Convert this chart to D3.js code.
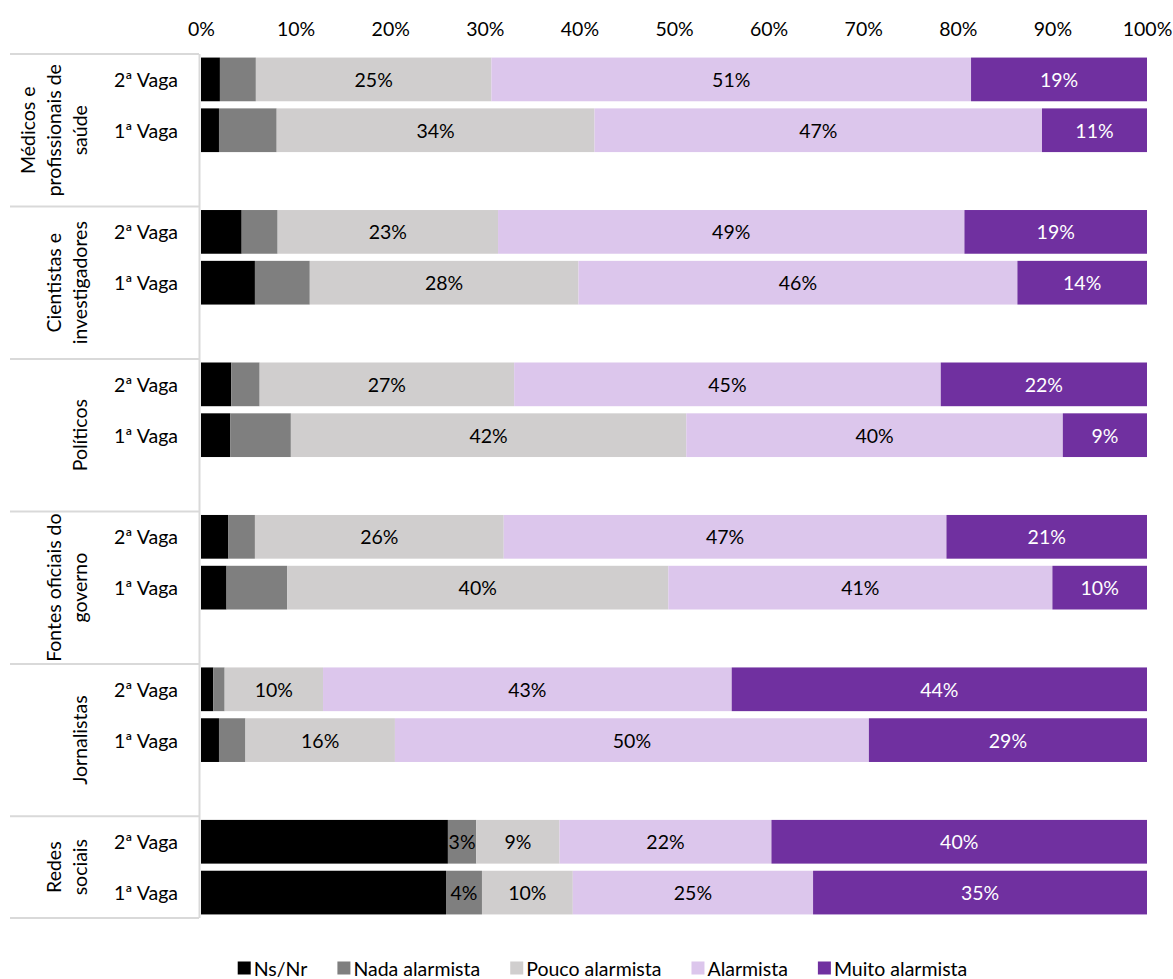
<!DOCTYPE html>
<html><head><meta charset="utf-8">
<script src="https://cdn.jsdelivr.net/npm/d3@7"></script>
<style>
body{margin:0;background:#fff;}
text{font-family:Lato, "Open Sans", sans-serif;}
</style></head>
<body><svg id="c" width="1173" height="979"></svg>
<script>
const groups = [
  ["Médicos e", "profissionais de", "saúde"],
  ["Cientistas e", "investigadores"],
  ["Políticos"],
  ["Fontes oficiais do", "governo"],
  ["Jornalistas"],
  ["Redes", "sociais"]
];
const waves = ["2ª Vaga", "1ª Vaga"];
const seriesNames = ["Ns/Nr", "Nada alarmista", "Pouco alarmista", "Alarmista", "Muito alarmista"];
const seriesColors = ["#000000", "#7f7f7f", "#d0cece", "#dcc6ec", "#7030a0"];
const labelColors = [null, "#000", "#000", "#000", "#fff"];
const ticks = [0, 10, 20, 30, 40, 50, 60, 70, 80, 90, 100];
// values per group: [2ª Vaga, 1ª Vaga], each [Ns/Nr, Nada, Pouco, Alarmista, Muito]
const medicos     = [[2.0, 3.8, 24.9, 50.7, 18.6], [1.9, 6.1, 33.6, 47.3, 11.1]];
const cientistas  = [[4.3, 3.8, 23.3, 49.3, 19.3], [5.7, 5.8, 28.4, 46.4, 13.7]];
const politicos   = [[3.2, 3.0, 26.9, 45.1, 21.8], [3.1, 6.4, 41.8, 39.8, 8.9]];
const fontes      = [[2.9, 2.8, 26.3, 46.8, 21.2], [2.7, 6.4, 40.3, 40.6, 10.0]];
const jornalistas = [[1.3, 1.2, 10.4, 43.2, 43.9], [1.9, 2.8, 15.8, 50.1, 29.4]];
const redes       = [[26.1, 3.0, 8.8, 22.4, 39.7], [25.9, 3.8, 9.6, 25.4, 35.3]];
const groupValues = [medicos, cientistas, politicos, fontes, jornalistas, redes];
// which series carry data labels per group (Ns/Nr never; Nada only for Redes sociais)
const labelledSeries = [[2,3,4],[2,3,4],[2,3,4],[2,3,4],[2,3,4],[1,2,3,4]];

const svg = d3.select("#c");
const FS = 19.5;

const rows = [];
groups.forEach((g, gi) => {
  waves.forEach((w, wi) => rows.push({key: gi + "-" + wi, gi, wi, wave: w, values: groupValues[gi][wi]}));
  if (gi < groups.length - 1) rows.push({key: gi + "-blank", gi, blank: true});
});

const plotTop = 54, plotBottom = 918;
const y = d3.scaleBand().domain(rows.map(r => r.key)).range([plotTop, plotBottom]).paddingInner(0.14).paddingOuter(0.07);
const x = d3.scaleLinear().domain([0, 100]).range([201, 1147]);

// top axis
const axis = svg.append("g").attr("transform", "translate(0,28)")
  .call(d3.axisTop(x).tickValues(ticks).tickSize(0).tickPadding(0).tickFormat(d => d + "%"));
axis.select(".domain").remove();
axis.selectAll("text").attr("font-size", FS).attr("fill", "#000")
  .attr("dy", null).attr("dominant-baseline", "central").style("font-family", "Lato, 'Open Sans', sans-serif");

// stacked bars
const dataRows = rows.filter(r => !r.blank);
const stack = d3.stack().keys(d3.range(5)).value((r, k) => r.values[k]);
const stacked = stack(dataRows);

const barG = svg.append("g");
stacked.forEach((layer, si) => {
  barG.selectAll(null).data(layer).enter().append("rect")
    .attr("x", d => x(d[0]))
    .attr("y", d => y(d.data.key))
    .attr("width", d => x(d[1]) - x(d[0]))
    .attr("height", y.bandwidth())
    .attr("fill", seriesColors[si]);
});
stacked.forEach((layer, si) => {
  barG.selectAll(null).data(layer.filter(d => labelledSeries[d.data.gi].includes(si))).enter().append("text")
    .attr("x", d => (x(d[0]) + x(d[1])) / 2)
    .attr("y", d => y(d.data.key) + y.bandwidth() / 2)
    .attr("text-anchor", "middle").attr("dominant-baseline", "central")
    .attr("font-size", FS).attr("fill", labelColors[si])
    .text(d => d3.format(".0f")(d[1] - d[0]) + "%");
});

// category axis
const lineCol = "#d9d9d9";
svg.append("line").attr("x1", 199.5).attr("x2", 199.5).attr("y1", plotTop).attr("y2", plotBottom)
  .attr("stroke", lineCol).attr("stroke-width", 2);
const step = y.step();
const groupTops = groups.map((g, gi) => y(gi + "-0") - step * y.paddingOuter());
const bounds = groupTops.concat([plotBottom]);
bounds.forEach(b => {
  svg.append("line").attr("x1", 10).attr("x2", 199).attr("y1", b).attr("y2", b)
    .attr("stroke", lineCol).attr("stroke-width", 2);
});

dataRows.forEach(r => {
  svg.append("text").attr("x", 146).attr("y", y(r.key) + y.bandwidth() / 2)
    .attr("text-anchor", "middle").attr("dominant-baseline", "central")
    .attr("font-size", FS).attr("fill", "#000").text(r.wave);
});

groups.forEach((lines, gi) => {
  const yc = (bounds[gi] + bounds[gi + 1]) / 2;
  const t = svg.append("text").attr("transform", `translate(79,${yc}) rotate(-90)`)
    .attr("text-anchor", "middle").attr("font-size", FS).attr("fill", "#000");
  lines.forEach((ln, i) => {
    t.append("tspan").attr("x", 0).attr("y", (i - (lines.length - 1)) * 26)
      .attr("dominant-baseline", "central").text(ln);
  });
});

// legend
const leg = svg.append("g");
const items = seriesNames.map((n, i) => {
  const g = leg.append("g");
  g.append("rect").attr("width", 13).attr("height", 13).attr("y", -6.5).attr("fill", seriesColors[i]);
  const tx = g.append("text").attr("x", 16).attr("dominant-baseline", "central")
    .attr("font-size", FS).attr("fill", "#000").text(n);
  return {g, w: 16 + tx.node().getComputedTextLength()};
});
const gap = 30;
const total = d3.sum(items, d => d.w) + gap * (items.length - 1);
let cx = 602.5 - total / 2;
items.forEach(it => { it.g.attr("transform", `translate(${cx},968)`); cx += it.w + gap; });
</script></body></html>
